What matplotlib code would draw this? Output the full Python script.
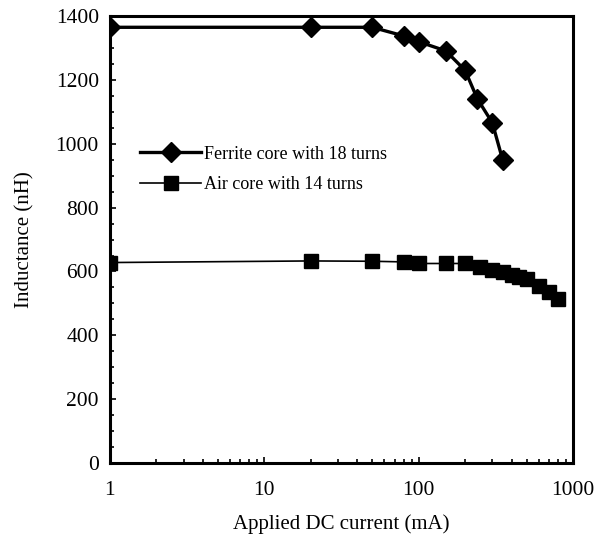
import matplotlib.pyplot as plt
from matplotlib.ticker import MultipleLocator, FixedLocator, NullFormatter
import numpy as np

plt.rcParams['font.family'] = ['Liberation Serif', 'DejaVu Serif']

# Data
ferrite_current = [1, 20, 50, 80, 100, 150, 200, 240, 300, 350]  # mA
ferrite_L = [1365, 1365, 1365, 1338, 1320, 1291, 1230, 1141, 1066, 950]  # nH

air_current = [1, 20, 50, 80, 100, 150, 200, 250, 300, 350, 400, 450, 500, 600, 700, 800]
air_L = [628, 633, 632, 630, 625, 625, 625, 615, 605, 597, 590, 582, 575, 555, 535, 515]

fig = plt.figure(figsize=(5.99, 5.41), dpi=100)
ax = fig.add_axes([0.1836, 0.1442, 0.773, 0.826])

ax.plot(ferrite_current, ferrite_L, color='black', lw=2.4, marker='D',
        markersize=10, label='Ferrite core with 18 turns')
ax.plot(air_current, air_L, color='black', lw=1.2, marker='s',
        markersize=10, label='Air core with 14 turns')

ax.set_xscale('log')
ax.set_xlim(1, 1000)
ax.set_ylim(0, 1400)
ax.set_xticks([1, 10, 100, 1000])
ax.set_xticklabels(['1', '10', '100', '1000'])
ax.xaxis.set_minor_locator(FixedLocator(
    [m * 10 ** d for d in range(3) for m in range(2, 10)]))
ax.xaxis.set_minor_formatter(NullFormatter())
ax.yaxis.set_major_locator(MultipleLocator(200))
ax.yaxis.set_minor_locator(MultipleLocator(50))

ax.tick_params(axis='both', which='both', direction='in', labelsize=15.5, width=1.2)
ax.tick_params(axis='both', which='major', length=4, pad=8)
ax.tick_params(axis='both', which='minor', length=3)
ax.tick_params(axis='x', which='major', pad=13)
for s in ax.spines.values():
    s.set_linewidth(2.2)

ax.set_xlabel('Applied DC current (mA)', fontsize=15, labelpad=10)
ax.set_ylabel('Inductance (nH)', fontsize=15, labelpad=15)

ax.legend(loc='upper left', bbox_to_anchor=(0.065, 0.71), frameon=False,
          fontsize=13, handlelength=3.4, handletextpad=0.15,
          labelspacing=0.75, borderpad=0, borderaxespad=0)

fig.savefig('out.png', dpi=100)
